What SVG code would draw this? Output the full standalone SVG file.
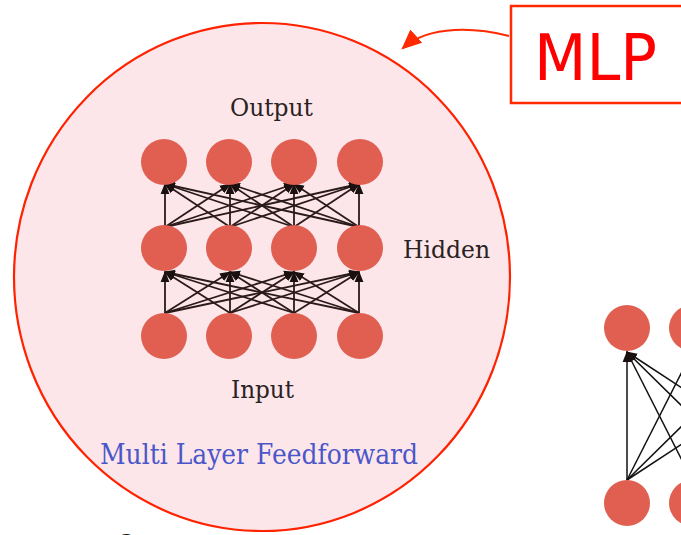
<svg xmlns="http://www.w3.org/2000/svg" width="681" height="535" viewBox="0 0 681 535">
<defs>
<style>
.n{fill:#e05f50}
.e{stroke:#2a1a1a;stroke-width:1.8;fill:none;marker-end:url(#ah)}
.e2{stroke:#111;stroke-width:1.5;fill:none;marker-end:url(#ah)}
.lbl{font-family:"DejaVu Serif",serif;fill:#2a2222}
</style>
<marker id="ah" markerUnits="userSpaceOnUse" markerWidth="11" markerHeight="11" viewBox="0 0 10 10" refX="9" refY="5" orient="auto">
<path d="M0,1 L10,5 L0,9 z" fill="#1a1010"/>
</marker>
<marker id="rah" markerUnits="userSpaceOnUse" markerWidth="20" markerHeight="20" viewBox="0 0 18 18" refX="16" refY="9" orient="auto">
<path d="M0,1 L18,9 L0,17 z" fill="#ff2a00"/>
</marker>
</defs>
<rect width="681" height="535" fill="#ffffff"/>
<text x="117" y="551" font-family="'Liberation Sans',sans-serif" font-size="24" fill="#111">Output</text>
<g id="mlp-circle">
<ellipse cx="262" cy="277" rx="248" ry="254" fill="#fde6ea" stroke="#ff2200" stroke-width="2.2"/>
</g>
<g id="connectors">
<line class="e" x1="165" y1="313" x2="165" y2="272"/>
<line class="e" x1="165" y1="313" x2="230" y2="272"/>
<line class="e" x1="165" y1="313" x2="294" y2="272"/>
<line class="e" x1="165" y1="313" x2="359" y2="272"/>
<line class="e" x1="230" y1="313" x2="165" y2="272"/>
<line class="e" x1="230" y1="313" x2="230" y2="272"/>
<line class="e" x1="230" y1="313" x2="294" y2="272"/>
<line class="e" x1="230" y1="313" x2="359" y2="272"/>
<line class="e" x1="294" y1="313" x2="165" y2="272"/>
<line class="e" x1="294" y1="313" x2="230" y2="272"/>
<line class="e" x1="294" y1="313" x2="294" y2="272"/>
<line class="e" x1="294" y1="313" x2="359" y2="272"/>
<line class="e" x1="359" y1="313" x2="165" y2="272"/>
<line class="e" x1="359" y1="313" x2="230" y2="272"/>
<line class="e" x1="359" y1="313" x2="294" y2="272"/>
<line class="e" x1="359" y1="313" x2="359" y2="272"/>
<line class="e" x1="165" y1="227" x2="165" y2="184"/>
<line class="e" x1="165" y1="227" x2="230" y2="184"/>
<line class="e" x1="165" y1="227" x2="294" y2="184"/>
<line class="e" x1="165" y1="227" x2="359" y2="184"/>
<line class="e" x1="230" y1="227" x2="165" y2="184"/>
<line class="e" x1="230" y1="227" x2="230" y2="184"/>
<line class="e" x1="230" y1="227" x2="294" y2="184"/>
<line class="e" x1="230" y1="227" x2="359" y2="184"/>
<line class="e" x1="294" y1="227" x2="165" y2="184"/>
<line class="e" x1="294" y1="227" x2="230" y2="184"/>
<line class="e" x1="294" y1="227" x2="294" y2="184"/>
<line class="e" x1="294" y1="227" x2="359" y2="184"/>
<line class="e" x1="359" y1="227" x2="165" y2="184"/>
<line class="e" x1="359" y1="227" x2="230" y2="184"/>
<line class="e" x1="359" y1="227" x2="294" y2="184"/>
<line class="e" x1="359" y1="227" x2="359" y2="184"/>
<line class="e2" x1="627" y1="480" x2="627" y2="352"/>
<line class="e2" x1="627" y1="480" x2="692" y2="352"/>
<line class="e2" x1="627" y1="480" x2="757" y2="352"/>
<line class="e2" x1="627" y1="480" x2="822" y2="352"/>
<line class="e2" x1="692" y1="480" x2="627" y2="352"/>
<line class="e2" x1="757" y1="480" x2="627" y2="352"/>
<line class="e2" x1="822" y1="480" x2="627" y2="352"/>
<path d="M509,36 C478,28 430,24 403,48" fill="none" stroke="#ff2a00" stroke-width="2" marker-end="url(#rah)"/>
</g>
<g id="output-layer">
<circle class="n" cx="164" cy="162" r="23"/>
<circle class="n" cx="229" cy="162" r="23"/>
<circle class="n" cx="294" cy="162" r="23"/>
<circle class="n" cx="360" cy="162" r="23"/>
</g>
<g id="hidden-layer">
<circle class="n" cx="164" cy="248" r="23"/>
<circle class="n" cx="229" cy="248" r="23"/>
<circle class="n" cx="294" cy="248" r="23"/>
<circle class="n" cx="360" cy="248" r="23"/>
</g>
<g id="input-layer">
<circle class="n" cx="164" cy="336" r="23"/>
<circle class="n" cx="229" cy="336" r="23"/>
<circle class="n" cx="294" cy="336" r="23"/>
<circle class="n" cx="360" cy="336" r="23"/>
</g>
<g id="right-network">
<circle class="n" cx="627" cy="328" r="23"/>
<circle class="n" cx="692" cy="328" r="23"/>
<circle class="n" cx="627" cy="503" r="23"/>
<circle class="n" cx="692" cy="503" r="23"/>
</g>
<g id="labels">
<text class="lbl" x="230" y="116" font-size="25" textLength="83" lengthAdjust="spacingAndGlyphs">Output</text>
<text class="lbl" x="403" y="258" font-size="25" textLength="87" lengthAdjust="spacingAndGlyphs">Hidden</text>
<text class="lbl" x="231" y="398" font-size="25" textLength="63" lengthAdjust="spacingAndGlyphs">Input</text>
<text x="100" y="464" font-family="'DejaVu Serif',serif" font-size="27" fill="#4b57c8" textLength="318" lengthAdjust="spacingAndGlyphs">Multi Layer Feedforward</text>
</g>
<g id="mlp-label">
<rect x="511" y="6" width="190" height="97" fill="#ffffff" stroke="#ff2a00" stroke-width="2.5"/>
<text x="534" y="80" font-family="'DejaVu Sans',sans-serif" font-size="64" fill="#ff0000" textLength="123" lengthAdjust="spacingAndGlyphs">MLP</text>
</g>
</svg>
